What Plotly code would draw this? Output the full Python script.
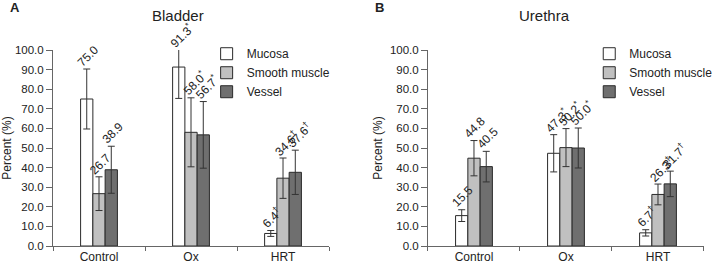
import plotly.graph_objects as go

# ---------------- data ----------------
groups = ["Control", "Ox", "HRT"]
series_names = ["Mucosa", "Smooth muscle", "Vessel"]

bladder_mucosa = [75.0, 91.3, 6.4]
bladder_smooth = [26.7, 58.0, 34.6]
bladder_vessel = [38.9, 56.7, 37.6]
bladder_mucosa_err = [15.3, 16.0, 1.5]
bladder_smooth_err = [8.6, 17.6, 10.3]
bladder_vessel_err = [12.0, 17.0, 11.3]

urethra_mucosa = [15.5, 47.3, 6.7]
urethra_smooth = [44.8, 50.2, 26.3]
urethra_vessel = [40.5, 50.0, 31.7]
urethra_mucosa_err = [3.0, 9.5, 1.6]
urethra_smooth_err = [9.0, 9.7, 5.3]
urethra_vessel_err = [7.8, 10.2, 6.5]

# significance marks per group (Control, Ox, HRT)
sig_marks = ["", "*", "\u2020"]

y_ticks = [0, 10, 20, 30, 40, 50, 60, 70, 80, 90, 100]

# ---------------- style ----------------
FONT = "Liberation Sans, Arial, sans-serif"
TXT = "#222222"
AX = "#666666"
series_colors = ["#ffffff", "#c0c0c0", "#6f6f6f"]
bar_offsets = [-0.1333, 0.0, 0.1333]

fig = go.Figure()

panels = [
    ("x", "y", "legend",
     [bladder_mucosa, bladder_smooth, bladder_vessel],
     [bladder_mucosa_err, bladder_smooth_err, bladder_vessel_err]),
    ("x2", "y2", "legend2",
     [urethra_mucosa, urethra_smooth, urethra_vessel],
     [urethra_mucosa_err, urethra_smooth_err, urethra_vessel_err]),
]

annotations = []
for xa, ya, leg, vals, errs in panels:
    for s, (name, col) in enumerate(zip(series_names, series_colors)):
        fig.add_trace(go.Bar(
            x=groups, y=vals[s], name=name, xaxis=xa, yaxis=ya, legend=leg,
            marker=dict(color=col, line=dict(color="#2a2a2a", width=1)),
            error_y=dict(type="data", array=errs[s], visible=True,
                         color="#333333", thickness=1, width=3.5),
        ))
        for g in range(len(groups)):
            top = min(vals[s][g] + errs[s][g], 100)
            txt = f"{vals[s][g]:.1f}"
            if sig_marks[g]:
                txt += f"<sup>{sig_marks[g]}</sup>"
            annotations.append(dict(
                x=g + bar_offsets[s], y=top, xref=xa, yref=ya,
                text=txt, showarrow=False, textangle=-45,
                xanchor="left", yanchor="bottom", xshift=-15, yshift=-3,
                font=dict(family=FONT, size=12, color=TXT),
            ))

def xaxis_cfg(domain, anchor):
    return dict(domain=domain, anchor=anchor, showline=True, linecolor=AX,
                linewidth=1, ticks="outside", tickson="boundaries", ticklen=4,
                tickcolor=AX, showgrid=False, zeroline=False,
                tickfont=dict(family=FONT, size=12, color=TXT))

def yaxis_cfg(anchor):
    return dict(anchor=anchor, range=[0, 100], tickvals=y_ticks, tickformat=".1f",
                showline=True, linecolor=AX, linewidth=1, ticks="outside",
                ticklen=6, tickcolor=AX, showgrid=False, zeroline=False,
                tickfont=dict(family=FONT, size=11.5, color=TXT),
                title=dict(text="Percent (%)", standoff=4,
                           font=dict(family=FONT, size=12, color=TXT)))

# titles and panel letters
for txt, x, y, size, bold, xanchor in [
    ("Bladder", 0.192, 1.178, 15, False, "center"),
    ("Urethra", 0.7545, 1.178, 15, False, "center"),
    ("A", -0.0685, 1.218, 13, True, "left"),
    ("B", 0.5015, 1.218, 13, True, "center"),
]:
    annotations.append(dict(
        x=x, y=y, xref="paper", yref="paper", showarrow=False,
        text=f"<b>{txt}</b>" if bold else txt, xanchor=xanchor, yanchor="middle",
        font=dict(family=FONT, size=size, color=TXT)))

legend_style = dict(font=dict(family=FONT, size=12, color=TXT),
                    bgcolor="rgba(0,0,0,0)", xanchor="left", yanchor="top",
                    traceorder="normal", borderwidth=0)

fig.update_layout(
    width=721, height=267,
    margin=dict(l=46, r=3, t=50, b=20),
    paper_bgcolor="white", plot_bgcolor="white",
    barmode="group", bargap=0.6, bargroupgap=0,
    xaxis=xaxis_cfg([0, 0.424], "y"),
    yaxis=yaxis_cfg("x"),
    xaxis2=xaxis_cfg([0.576, 1.0], "y2"),
    yaxis2=yaxis_cfg("x2"),
    legend=dict(x=0.236, y=1.055, **legend_style),
    legend2=dict(x=0.836, y=1.055, indentation=-8, **legend_style),
    annotations=annotations,
    font=dict(family=FONT, color=TXT),
)

fig.write_html("out.html", config={"displayModeBar": False})
